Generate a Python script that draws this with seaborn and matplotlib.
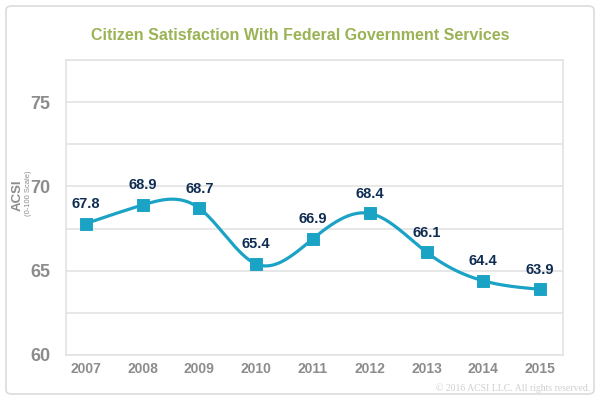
import numpy as np
import pandas as pd
import seaborn as sns
import matplotlib.pyplot as plt
from matplotlib.patches import FancyBboxPatch
from matplotlib.ticker import MultipleLocator, FixedLocator

# --- data ---
years = ["2007", "2008", "2009", "2010", "2011", "2012", "2013", "2014", "2015"]
acsi = [67.8, 68.9, 68.7, 65.4, 66.9, 68.4, 66.1, 64.4, 63.9]

df = pd.DataFrame({"year": years, "acsi": acsi})
df["pos"] = np.arange(len(years))

LINE = "#1ba3c6"
NAVY = "#0f2d52"
GRAY = "#8c8c8c"
GRID = "#e3e3e3"
TITLE = "#9bb255"


def natural_spline(x, y, n=400):
    # natural cubic spline, only to draw the smooth connecting curve
    x = np.asarray(x, float)
    y = np.asarray(y, float)
    k = len(x)
    h = np.diff(x)
    A = np.zeros((k, k))
    b = np.zeros(k)
    A[0, 0] = A[-1, -1] = 1
    for i in range(1, k - 1):
        A[i, i - 1] = h[i - 1]
        A[i, i] = 2 * (h[i - 1] + h[i])
        A[i, i + 1] = h[i]
        b[i] = 3 * ((y[i + 1] - y[i]) / h[i] - (y[i] - y[i - 1]) / h[i - 1])
    c = np.linalg.solve(A, b)
    xs = np.linspace(x[0], x[-1], n)
    idx = np.clip(np.searchsorted(x, xs) - 1, 0, k - 2)
    dx = xs - x[idx]
    bb = (y[idx + 1] - y[idx]) / h[idx] - h[idx] * (2 * c[idx] + c[idx + 1]) / 3
    dd = (c[idx + 1] - c[idx]) / (3 * h[idx])
    ys = y[idx] + bb * dx + c[idx] * dx ** 2 + dd * dx ** 3
    return xs, ys


sns.set_style("white")
plt.rcParams["font.family"] = ["Liberation Sans", "DejaVu Sans"]

fig = plt.figure(figsize=(6, 4), dpi=100)
ax = fig.add_axes([0.11, 0.1125, 0.828, 0.7375])

# outer rounded frame
fig.patches.append(FancyBboxPatch((0.01, 0.015), 0.98, 0.97,
                                  boxstyle="round,pad=0,rounding_size=0.01",
                                  transform=fig.transFigure, fill=False,
                                  edgecolor="#dcdcdc", linewidth=1.2))

xs, ys = natural_spline(df["pos"], df["acsi"])
curve = pd.DataFrame({"x": xs, "y": ys})
sns.lineplot(data=curve, x="x", y="y", ax=ax, color=LINE, linewidth=2.3, zorder=3)
sns.scatterplot(data=df, x="pos", y="acsi", ax=ax, marker="s", s=70,
                color=LINE, edgecolor=LINE, zorder=4)

for p, v in zip(df["pos"], df["acsi"]):
    ax.annotate(f"{v:.1f}", (p, v), xytext=(0, 9), textcoords="offset points",
                ha="center", va="bottom", fontsize=10.5, fontweight="bold", color=NAVY)

ax.set_xlim(-0.35, 8.4)
ax.set_ylim(60, 77.5)
ax.yaxis.set_major_locator(FixedLocator([60, 65, 70, 75]))
ax.yaxis.set_minor_locator(MultipleLocator(2.5))
ax.grid(True, which="both", axis="y", color=GRID, linewidth=1.2)
ax.set_axisbelow(True)

ax.set_xticks(df["pos"])
ax.set_xticklabels(years)
ax.xaxis.set_minor_locator(FixedLocator(np.arange(0.5, 8, 1)))
ax.tick_params(axis="x", which="major", length=0, pad=5, labelsize=10, labelcolor=GRAY)
ax.tick_params(axis="x", which="minor", length=6, color=GRID, width=1.2, direction="out")
ax.tick_params(axis="y", which="both", length=6, color=GRID, width=1.2, pad=5,
               labelsize=13, labelcolor=GRAY)
for lab in ax.get_xticklabels() + ax.get_yticklabels():
    lab.set_fontweight("bold")

for s in ax.spines.values():
    s.set_color(GRID)
    s.set_linewidth(1.2)

ax.set_xlabel("")
ax.set_ylabel("")

fig.text(0.5, 0.912, "Citizen Satisfaction With Federal Government Services",
         ha="center", va="center", fontsize=11.5, fontweight="bold", color=TITLE)
fig.text(0.029, 0.512, "ACSI", rotation=90, ha="center", va="center",
         fontsize=9.5, fontweight="bold", color=GRAY)
fig.text(0.048, 0.517, "(0-100 Scale)", rotation=90, ha="center", va="center",
         fontsize=5.5, color=GRAY)
fig.text(0.983, 0.03, "\u00a9 2016 ACSI LLC. All rights reserved.", ha="right",
         va="center", fontsize=7, color="#cfcfcf", family=["Liberation Serif", "DejaVu Serif"])

fig.savefig("out.png", dpi=100)
